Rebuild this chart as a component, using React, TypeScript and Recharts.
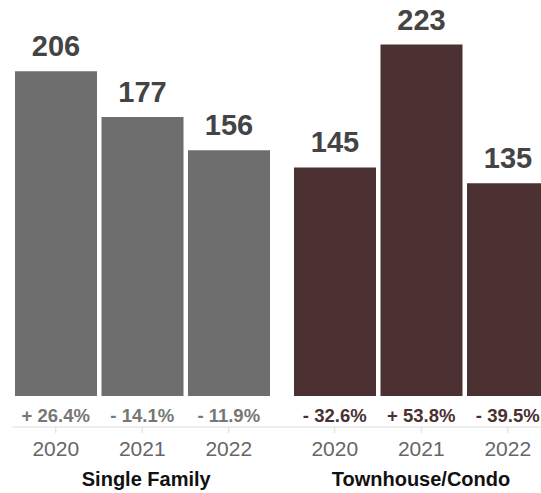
import { BarChart, Bar, XAxis, YAxis, LabelList } from 'recharts';

// data
const years = ['2020', '2021', '2022'];
const singleFamily = [206, 177, 156];
const singleFamilyChange = ['+ 26.4%', '- 14.1%', '- 11.9%'];
const townhouse = [145, 223, 135];
const townhouseChange = ['- 32.6%', '+ 53.8%', '- 39.5%'];

const FONT = '"Liberation Sans", Arial, Helvetica, sans-serif';

interface GroupProps {
    values: number[];
    changes: string[];
    title: string;
    barColor: string;
    changeColor: string;
    width: number;
    marginLeft: number;
    padLeft: number;
    padRight: number;
    titleDx: number;
}

function Group({ values, changes, title, barColor, changeColor, width, marginLeft, padLeft, padRight, titleDx }: GroupProps) {
    const data = years.map((year, i) => ({ year, change: changes[i], value: values[i] }));

    return (
        <BarChart
            width={width}
            height={493}
            data={data}
            margin={{ top: 2, right: 0, bottom: 0, left: marginLeft }}
            barCategoryGap={2.5}
        >
            <YAxis hide domain={[0, 250]} />
            <XAxis
                xAxisId="change"
                dataKey="change"
                height={31}
                axisLine={false}
                tickLine={false}
                tickSize={6}
                tickMargin={7}
                padding={{ left: padLeft, right: padRight }}
                interval={0}
                tick={{ fill: changeColor, fontSize: 18.5, fontWeight: 700, fontFamily: FONT }}
            />
            <XAxis
                xAxisId="year"
                dataKey="year"
                height={66}
                axisLine={{ stroke: '#dcdcdc' }}
                tickLine={{ stroke: '#dcdcdc' }}
                tickSize={6}
                tickMargin={8}
                padding={{ left: padLeft, right: padRight }}
                interval={0}
                tick={{ fill: '#666', fontSize: 21, fontFamily: FONT }}
                label={{
                    value: title,
                    position: 'insideBottom',
                    offset: 7,
                    dx: titleDx,
                    fill: '#111',
                    fontSize: 20,
                    fontWeight: 700,
                    fontFamily: FONT,
                }}
            />
            <Bar dataKey="value" xAxisId="change" fill={barColor} isAnimationActive={false}>
                <LabelList
                    dataKey="value"
                    position="top"
                    offset={15}
                    fill="#444"
                    fontSize={29}
                    fontWeight={700}
                    fontFamily={FONT}
                />
            </Bar>
        </BarChart>
    );
}

export default function App() {
    return (
        <div
            style={{
                position: 'absolute',
                left: 0,
                top: 0,
                width: 541,
                height: 493,
                overflow: 'hidden',
                background: '#fff',
                fontFamily: FONT,
            }}
        >
            <div style={{ position: 'absolute', left: 0, top: 0 }}>
                <Group
                    values={singleFamily}
                    changes={singleFamilyChange}
                    title="Single Family"
                    barColor="#6e6e6f"
                    changeColor="#777"
                    width={282}
                    marginLeft={12.5}
                    padLeft={0}
                    padRight={10}
                    titleDx={-1}
                />
            </div>
            <div style={{ position: 'absolute', left: 282, top: 0 }}>
                <Group
                    values={townhouse}
                    changes={townhouseChange}
                    title="Townhouse/Condo"
                    barColor="#4b3132"
                    changeColor="#4b3132"
                    width={269}
                    marginLeft={0}
                    padLeft={9.5}
                    padRight={0}
                    titleDx={4.5}
                />
            </div>
        </div>
    );
}
